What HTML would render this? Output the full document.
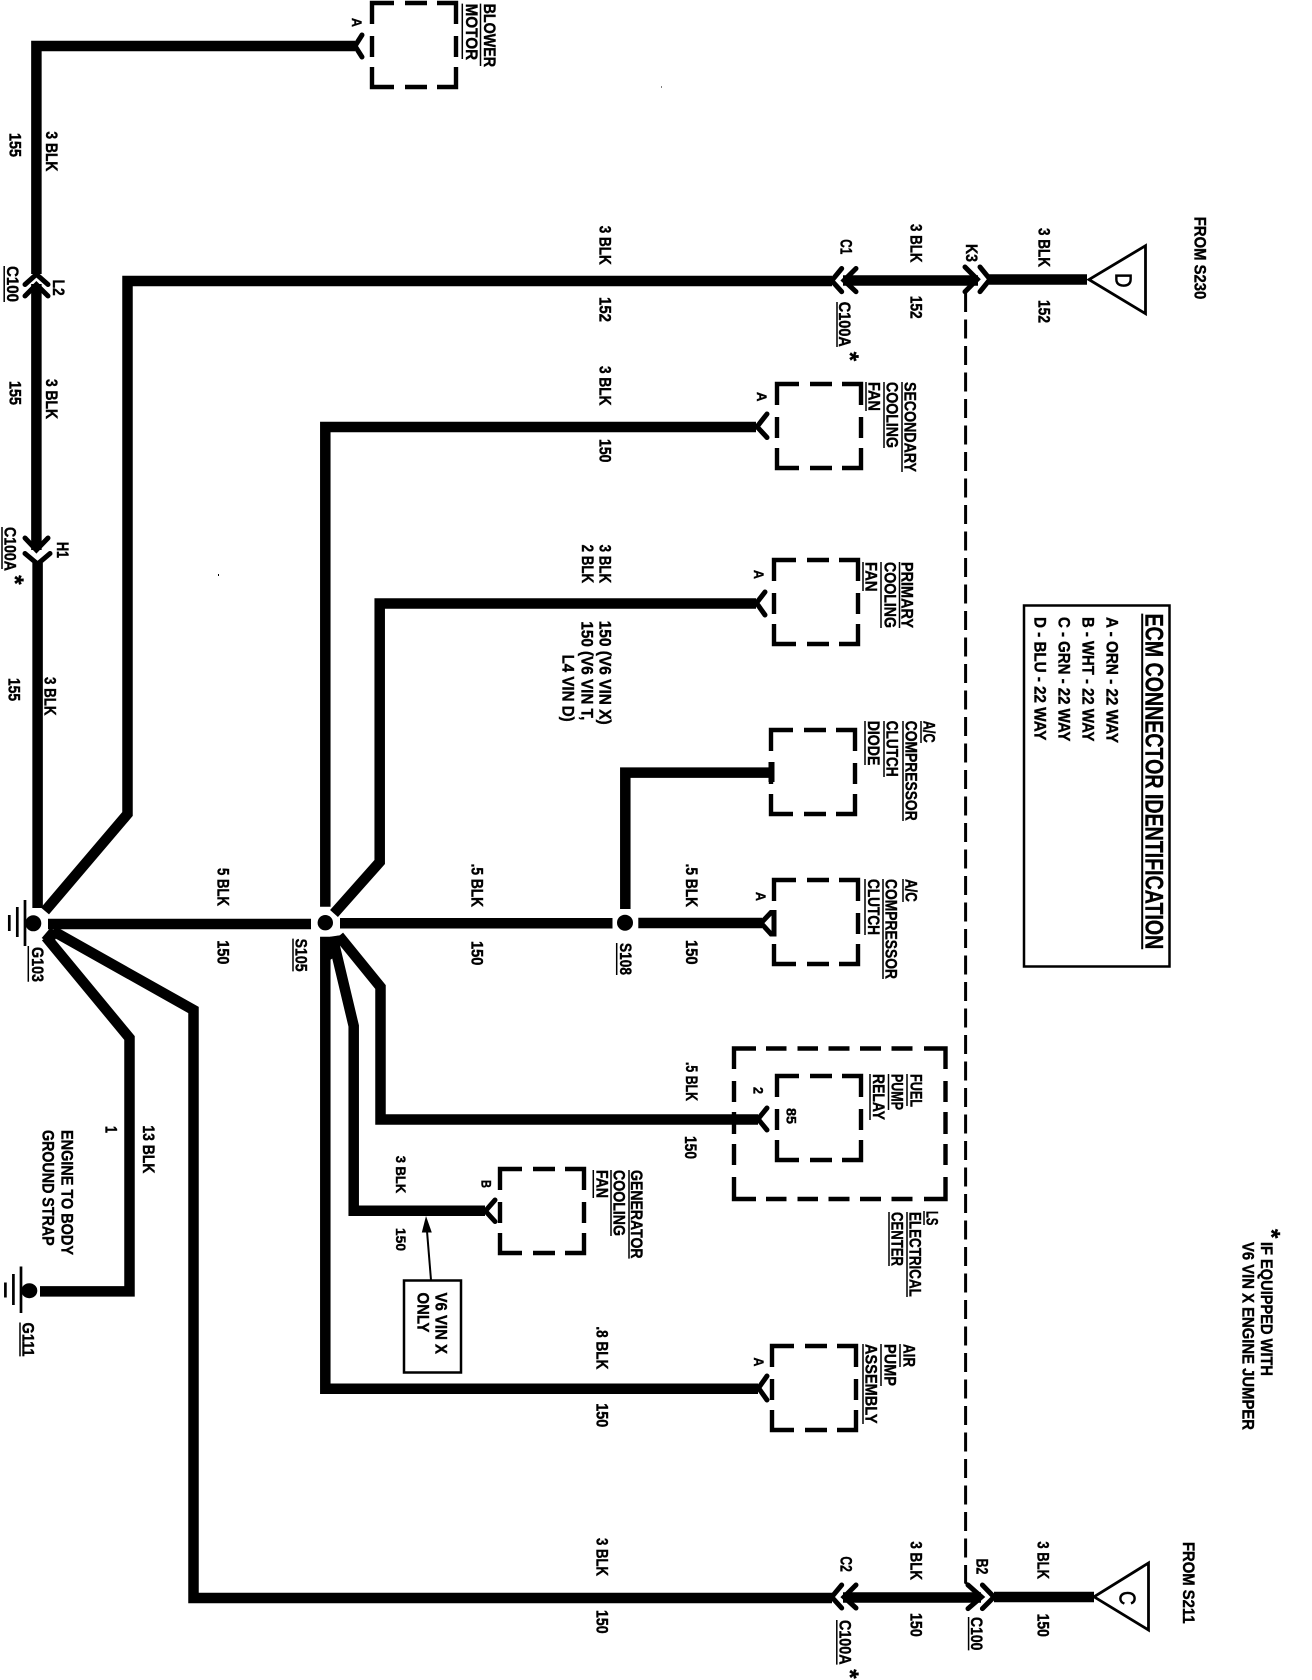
<!DOCTYPE html>
<html><head><meta charset="utf-8"><style>
html,body{margin:0;padding:0;background:#fff}
svg{display:block}
text{font-family:"Liberation Sans",sans-serif;font-weight:bold;font-size:16.5px;fill:#000;stroke:#000;stroke-width:.4px}
.s{font-size:14px}.h{font-size:25px}.l{font-size:23px;font-weight:normal;stroke-width:.7px}.st{font-size:24px}
.w{fill:none;stroke:#000;stroke-width:10.5;stroke-linejoin:miter}
.c{fill:none;stroke:#000;stroke-width:5;stroke-linejoin:miter;stroke-linecap:round}
.u{fill:none;stroke:#000;stroke-width:1.5}
.t{fill:none;stroke:#000;stroke-width:2.7}
</style></head><body>
<svg xmlns="http://www.w3.org/2000/svg" width="1312" height="1680" viewBox="0 0 1312 1680">
<rect width="1312" height="1680" fill="#fff"/>
<defs><path id="b" fill="none" stroke="#000" stroke-width="4.4" d="M24 2H2V23M35 2H57M67 2H86V23M2 35V56M86 35V56M2 66V86H24M35 86H57M67 86H86V66"/></defs>

<!-- boxes -->
<use href="#b" x="370" y="1"/>
<use href="#b" x="775" y="382"/>
<use href="#b" x="772" y="558"/>
<use href="#b" x="769" y="728"/>
<use href="#b" x="772" y="878"/>
<use href="#b" x="775" y="1074"/>
<use href="#b" x="498" y="1167"/>
<use href="#b" x="770" y="1344"/>
<path fill="none" stroke="#000" stroke-width="4.4" d="M756 1048.5H734V1069M766 1048.5H786.5M797.5 1048.5H818M828.5 1048.5H849.5M860 1048.5H881M891.5 1048.5H912.5M924 1048.5H945.5V1069M734 1081V1102M945.5 1081V1102M734 1112V1134M945.5 1112V1134M734 1144V1165M945.5 1144V1165M734 1177V1199H756M766 1199H786.5M797.5 1199H818M828.5 1199H849.5M860 1199H881M891.5 1199H912.5M924 1199H945.5V1177"/>

<!-- wires -->
<path class="w" d="M355 46H36.4V274"/>
<path class="w" d="M36.4 284V550"/>
<path class="w" d="M37.6 563V908"/>
<path class="w" d="M832 281H127.5V814L45 911"/>
<path class="w" d="M843 280.5H978"/>
<path class="w" d="M989 279.5H1087"/>
<path class="w" d="M756 427H325.3V906.7"/>
<path class="w" d="M756 603.5H379.7V862L334 913.5"/>
<path class="w" d="M48 924H311"/>
<path class="w" d="M340 923.3H612.5"/>
<path class="w" d="M625.3 909V772.6H771"/>
<path class="w" d="M638.3 923H762"/>
<path class="w" d="M325.3 936.7V1388.8H758"/>
<path class="w" d="M332.5 937L353.7 1026V1210.7H485"/>
<path class="w" d="M339 936L380.5 987V1119.5H758"/>
<path class="w" d="M46 937L129.5 1038V1291.4H40"/>
<path class="w" d="M53 931L193.5 1010V1598H832"/>
<path class="w" d="M843 1597.5H981"/>
<path class="w" d="M994 1597H1094"/>
<polygon points="330,936.7 342,935 338,955 330,960"/>
<polygon points="41.7,938 50,928.3 60,931.7 52,945"/>

<!-- connectors -->
<path class="c" d="M362 35L355 46L362 57"/>
<path class="c" d="M767 414L757 426.7L767 437.5"/>
<path class="c" d="M765 592L756.5 603L765 615"/>
<path class="c" d="M767 1108L758 1119L767 1130"/>
<path class="c" d="M495 1200L485.4 1211L495 1221.5"/>
<path class="c" d="M767 1376L758.5 1388L767 1400"/>
<path class="c" d="M771 912.5L761 923L771 934H774V912.5Z"/>
<path fill="none" stroke="#000" stroke-width="6" d="M771.5 762V782"/>
<path class="c" d="M25 284.5L36.4 274.3L48 284.5M25 296L36.4 284.5L48 296"/>
<path class="c" d="M25 538L36.4 550L48 538M25 553.5L37.6 564L50 553.5"/>
<path class="c" d="M841.7 268.5L831.7 280.7L841.7 291.7M856 268.5L844 280.5L856 291.7"/>
<path class="c" d="M965 267L977.3 279.3L965 291.7M980 267L990 279.3L980 291.7"/>
<path class="c" d="M841.7 1585L831.7 1597L841.7 1608M856 1585L844 1597L856 1608"/>
<path class="c" d="M968 1585L981.5 1597L968 1608.6M982.4 1585L994 1597L982.4 1608.6"/>

<!-- dashed line -->
<path d="M965.6 293V1582.5L972 1587" fill="none" stroke="#000" stroke-width="3" stroke-dasharray="19 7.5"/>

<!-- junctions and grounds -->
<circle cx="325.3" cy="922.7" r="7.7"/>
<circle cx="625" cy="922.7" r="8"/>
<circle cx="33.3" cy="923.3" r="8"/>
<ellipse cx="29.3" cy="1290.7" rx="8" ry="7.5"/>
<path class="t" d="M25 900V946M17.3 907V937M9.3 915V931M21 1266.5V1313M13.4 1274V1305M5.4 1282.5V1297.5"/>

<!-- triangles and boxes -->
<path fill="none" stroke="#000" stroke-width="2.8" d="M1089 279.6L1145.5 245.7V313.6Z"/>
<path fill="none" stroke="#000" stroke-width="2.8" d="M1094 1596.8L1148.5 1563V1630Z"/>
<rect x="1024" y="605.5" width="145.5" height="361" fill="none" stroke="#000" stroke-width="2.5"/>
<rect x="404" y="1280.5" width="57" height="92" fill="none" stroke="#000" stroke-width="2.5"/>
<path fill="none" stroke="#000" stroke-width="2" d="M431 1280L426.5 1225"/>
<path d="M426 1216L431.8 1232.5L421.8 1232.5Z"/>

<!-- underlines -->
<path class="u" d="M480.5 3.6V66M462.3 3.6V59M4.2 266V302M2 527V569M837 302V347M28.3 946V981.7M293 938.6V971.4M616.7 943V975M902 382V472M884 382V448M866 382V411M899.5 562V628M881 562V628M863 562V591M921 721V743M903 721V821M884 721V777M865 721V765M903 879V902M883 879V979M865 879V935M907 1074V1106M888.5 1074V1110M870 1074V1120M924 1211V1225M907 1212V1297M889 1212V1266M900 1344V1367M881 1344V1386M863 1344V1424M629 1170V1258.6M611 1170V1236M593.3 1170V1198M20 1322.5V1356.4M968.6 1617V1650.4M836.8 1620V1664.6"/>
<path fill="none" stroke="#000" stroke-width="2" d="M1142.2 613.6V949.3"/>

<!-- labels -->
<g transform="translate(0.5 0)">
<text class="s" transform="translate(351.5 18) rotate(90)" textLength="9" lengthAdjust="spacingAndGlyphs">A</text>
<text transform="translate(483.5 3.6) rotate(90)" textLength="63.5" lengthAdjust="spacingAndGlyphs">BLOWER</text>
<text transform="translate(465.5 3.6) rotate(90)" textLength="56.5" lengthAdjust="spacingAndGlyphs">MOTOR</text>
<text transform="translate(45.5 131.4) rotate(90)" textLength="40" lengthAdjust="spacingAndGlyphs">3 BLK</text>
<text transform="translate(8.8 133) rotate(90)" textLength="24" lengthAdjust="spacingAndGlyphs">155</text>
<text transform="translate(6.3 266) rotate(90)" textLength="36" lengthAdjust="spacingAndGlyphs">C100</text>
<text transform="translate(52.5 279.6) rotate(90)" textLength="16" lengthAdjust="spacingAndGlyphs">L2</text>
<text transform="translate(45.5 379) rotate(90)" textLength="40" lengthAdjust="spacingAndGlyphs">3 BLK</text>
<text transform="translate(8.8 381) rotate(90)" textLength="24" lengthAdjust="spacingAndGlyphs">155</text>
<text transform="translate(4.2 527) rotate(90)" textLength="44" lengthAdjust="spacingAndGlyphs">C100A</text>
<text transform="translate(56.5 542) rotate(90)" textLength="16" lengthAdjust="spacingAndGlyphs">H1</text>
<text class="st" transform="translate(6.3 575.3) rotate(90)">*</text>
<text transform="translate(599 225.7) rotate(90)" textLength="39" lengthAdjust="spacingAndGlyphs">3 BLK</text>
<text transform="translate(599 297) rotate(90)" textLength="25" lengthAdjust="spacingAndGlyphs">152</text>
<text transform="translate(599 366) rotate(90)" textLength="39.5" lengthAdjust="spacingAndGlyphs">3 BLK</text>
<text transform="translate(599 439) rotate(90)" textLength="23.5" lengthAdjust="spacingAndGlyphs">150</text>
<text transform="translate(599 544.6) rotate(90)" textLength="38.5" lengthAdjust="spacingAndGlyphs">3 BLK</text>
<text transform="translate(581.6 544.6) rotate(90)" textLength="38.5" lengthAdjust="spacingAndGlyphs">2 BLK</text>
<text transform="translate(599 620.7) rotate(90)" textLength="104" lengthAdjust="spacingAndGlyphs">150 (V6 VIN X)</text>
<text transform="translate(581 621.4) rotate(90)" textLength="99" lengthAdjust="spacingAndGlyphs">150 (V6 VIN T,</text>
<text transform="translate(562 654.6) rotate(90)" textLength="67" lengthAdjust="spacingAndGlyphs">L4 VIN D)</text>
<text transform="translate(7.8 678) rotate(90)" textLength="23" lengthAdjust="spacingAndGlyphs">155</text>
<text transform="translate(44 677) rotate(90)" textLength="38.5" lengthAdjust="spacingAndGlyphs">3 BLK</text>
<text transform="translate(217 868) rotate(90)" textLength="38" lengthAdjust="spacingAndGlyphs">5 BLK</text>
<text transform="translate(217 940.4) rotate(90)" textLength="24" lengthAdjust="spacingAndGlyphs">150</text>
<text transform="translate(295 938.6) rotate(90)" textLength="33" lengthAdjust="spacingAndGlyphs">S105</text>
<text transform="translate(471 863.6) rotate(90)" textLength="43.5" lengthAdjust="spacingAndGlyphs">.5 BLK</text>
<text transform="translate(471 941) rotate(90)" textLength="24.4" lengthAdjust="spacingAndGlyphs">150</text>
<text transform="translate(619.5 943) rotate(90)" textLength="32" lengthAdjust="spacingAndGlyphs">S108</text>
<text transform="translate(31.4 947) rotate(90)" textLength="35" lengthAdjust="spacingAndGlyphs">G103</text>

<text transform="translate(1194 216.8) rotate(90)" textLength="82.5" lengthAdjust="spacingAndGlyphs">FROM S230</text>
<text transform="translate(840 239.3) rotate(90)" textLength="15" lengthAdjust="spacingAndGlyphs">C1</text>
<text transform="translate(965.6 244) rotate(90)" textLength="18" lengthAdjust="spacingAndGlyphs">K3</text>
<text transform="translate(910 224) rotate(90)" textLength="38.5" lengthAdjust="spacingAndGlyphs">3 BLK</text>
<text transform="translate(910 295.7) rotate(90)" textLength="23" lengthAdjust="spacingAndGlyphs">152</text>
<text transform="translate(1038 228) rotate(90)" textLength="39" lengthAdjust="spacingAndGlyphs">3 BLK</text>
<text transform="translate(1038 300) rotate(90)" textLength="23" lengthAdjust="spacingAndGlyphs">152</text>
<text transform="translate(838.5 301.8) rotate(90)" textLength="45" lengthAdjust="spacingAndGlyphs">C100A</text>
<text class="st" transform="translate(841.5 351.7) rotate(90)">*</text>
<text class="l" transform="translate(1115 273) rotate(90)" textLength="14.5" lengthAdjust="spacingAndGlyphs">D</text>
<text class="l" transform="translate(1119 1591) rotate(90)" textLength="14" lengthAdjust="spacingAndGlyphs">C</text>

<text transform="translate(904 382) rotate(90)" textLength="90" lengthAdjust="spacingAndGlyphs">SECONDARY</text>
<text transform="translate(886 382) rotate(90)" textLength="66" lengthAdjust="spacingAndGlyphs">COOLING</text>
<text transform="translate(868 382) rotate(90)" textLength="29" lengthAdjust="spacingAndGlyphs">FAN</text>
<text class="s" transform="translate(756.4 392) rotate(90)" textLength="9.5" lengthAdjust="spacingAndGlyphs">A</text>
<text transform="translate(901 562) rotate(90)" textLength="66" lengthAdjust="spacingAndGlyphs">PRIMARY</text>
<text transform="translate(884 562) rotate(90)" textLength="66" lengthAdjust="spacingAndGlyphs">COOLING</text>
<text transform="translate(865 562) rotate(90)" textLength="29.5" lengthAdjust="spacingAndGlyphs">FAN</text>
<text class="s" transform="translate(753.5 570) rotate(90)" textLength="9" lengthAdjust="spacingAndGlyphs">A</text>
<text transform="translate(923 720.7) rotate(90)" textLength="22" lengthAdjust="spacingAndGlyphs">A/C</text>
<text transform="translate(905 720.7) rotate(90)" textLength="100" lengthAdjust="spacingAndGlyphs">COMPRESSOR</text>
<text transform="translate(886 720.7) rotate(90)" textLength="56" lengthAdjust="spacingAndGlyphs">CLUTCH</text>
<text transform="translate(867.3 720.7) rotate(90)" textLength="44.7" lengthAdjust="spacingAndGlyphs">DIODE</text>
<text transform="translate(905 879) rotate(90)" textLength="22.8" lengthAdjust="spacingAndGlyphs">A/C</text>
<text transform="translate(885 879) rotate(90)" textLength="100" lengthAdjust="spacingAndGlyphs">COMPRESSOR</text>
<text transform="translate(867.3 879) rotate(90)" textLength="56" lengthAdjust="spacingAndGlyphs">CLUTCH</text>
<text class="s" transform="translate(755.6 892) rotate(90)" textLength="9" lengthAdjust="spacingAndGlyphs">A</text>
<text transform="translate(685.3 863.6) rotate(90)" textLength="43.5" lengthAdjust="spacingAndGlyphs">.5 BLK</text>
<text transform="translate(685.3 940) rotate(90)" textLength="24.6" lengthAdjust="spacingAndGlyphs">150</text>
<text transform="translate(685.3 1062) rotate(90)" textLength="39" lengthAdjust="spacingAndGlyphs">.5 BLK</text>
<text transform="translate(684.5 1136) rotate(90)" textLength="23" lengthAdjust="spacingAndGlyphs">150</text>
<text class="s" transform="translate(753 1087) rotate(90)" textLength="7" lengthAdjust="spacingAndGlyphs">2</text>
<text class="s" transform="translate(786 1108) rotate(90)" textLength="16" lengthAdjust="spacingAndGlyphs">85</text>
<text transform="translate(910 1074) rotate(90)" textLength="33" lengthAdjust="spacingAndGlyphs">FUEL</text>
<text transform="translate(891 1074) rotate(90)" textLength="36" lengthAdjust="spacingAndGlyphs">PUMP</text>
<text transform="translate(872.3 1074) rotate(90)" textLength="46" lengthAdjust="spacingAndGlyphs">RELAY</text>

<text class="h" transform="translate(1145 613.6) rotate(90)" textLength="335.7" lengthAdjust="spacingAndGlyphs">ECM CONNECTOR IDENTIFICATION</text>
<text transform="translate(1106 617) rotate(90)" textLength="126" lengthAdjust="spacingAndGlyphs">A - ORN - 22 WAY</text>
<text transform="translate(1082 617) rotate(90)" textLength="124.4" lengthAdjust="spacingAndGlyphs">B - WHT - 22 WAY</text>
<text transform="translate(1058 617) rotate(90)" textLength="124.4" lengthAdjust="spacingAndGlyphs">C - GRN - 22 WAY</text>
<text transform="translate(1034 617) rotate(90)" textLength="123.4" lengthAdjust="spacingAndGlyphs">D - BLU - 22 WAY</text>

<text transform="translate(105 1126) rotate(90)" textLength="7" lengthAdjust="spacingAndGlyphs">1</text>
<text transform="translate(142.5 1125.4) rotate(90)" textLength="48" lengthAdjust="spacingAndGlyphs">13 BLK</text>
<text transform="translate(61 1130) rotate(90)" textLength="125" lengthAdjust="spacingAndGlyphs">ENGINE TO BODY</text>
<text transform="translate(42 1130) rotate(90)" textLength="115.7" lengthAdjust="spacingAndGlyphs">GROUND STRAP</text>
<text transform="translate(22 1322.5) rotate(90)" textLength="34" lengthAdjust="spacingAndGlyphs">G111</text>
<text class="s" transform="translate(395.5 1155.7) rotate(90)" textLength="37.5" lengthAdjust="spacingAndGlyphs">3 BLK</text>
<text class="s" transform="translate(395.5 1228) rotate(90)" textLength="23" lengthAdjust="spacingAndGlyphs">150</text>
<text class="s" transform="translate(481 1180) rotate(90)" textLength="8" lengthAdjust="spacingAndGlyphs">B</text>
<text transform="translate(630.5 1170) rotate(90)" textLength="88.6" lengthAdjust="spacingAndGlyphs">GENERATOR</text>
<text transform="translate(613 1170) rotate(90)" textLength="66" lengthAdjust="spacingAndGlyphs">COOLING</text>
<text transform="translate(596 1170) rotate(90)" textLength="28" lengthAdjust="spacingAndGlyphs">FAN</text>
<text transform="translate(435 1292.5) rotate(90)" textLength="61.5" lengthAdjust="spacingAndGlyphs">V6 VIN X</text>
<text transform="translate(417 1292.5) rotate(90)" textLength="40" lengthAdjust="spacingAndGlyphs">ONLY</text>
<text transform="translate(596 1326.4) rotate(90)" textLength="43" lengthAdjust="spacingAndGlyphs">.8 BLK</text>
<text transform="translate(596 1403.2) rotate(90)" textLength="24" lengthAdjust="spacingAndGlyphs">150</text>
<text transform="translate(596 1538) rotate(90)" textLength="38" lengthAdjust="spacingAndGlyphs">3 BLK</text>
<text transform="translate(596 1610) rotate(90)" textLength="23.6" lengthAdjust="spacingAndGlyphs">150</text>

<text transform="translate(926 1211) rotate(90)" textLength="14.4" lengthAdjust="spacingAndGlyphs">LS</text>
<text transform="translate(909 1212) rotate(90)" textLength="84.8" lengthAdjust="spacingAndGlyphs">ELECTRICAL</text>
<text transform="translate(891 1212) rotate(90)" textLength="54" lengthAdjust="spacingAndGlyphs">CENTER</text>
<text transform="translate(903 1344) rotate(90)" textLength="23" lengthAdjust="spacingAndGlyphs">AIR</text>
<text transform="translate(884 1344) rotate(90)" textLength="42" lengthAdjust="spacingAndGlyphs">PUMP</text>
<text transform="translate(865 1344) rotate(90)" textLength="79.6" lengthAdjust="spacingAndGlyphs">ASSEMBLY</text>
<text class="s" transform="translate(753.5 1357.5) rotate(90)" textLength="9" lengthAdjust="spacingAndGlyphs">A</text>
<text transform="translate(840 1556.4) rotate(90)" textLength="15.4" lengthAdjust="spacingAndGlyphs">C2</text>
<text transform="translate(910 1541.4) rotate(90)" textLength="38.6" lengthAdjust="spacingAndGlyphs">3 BLK</text>
<text transform="translate(910 1613) rotate(90)" textLength="23.8" lengthAdjust="spacingAndGlyphs">150</text>
<text transform="translate(976 1558.6) rotate(90)" textLength="15.7" lengthAdjust="spacingAndGlyphs">B2</text>
<text transform="translate(970.6 1617) rotate(90)" textLength="33.4" lengthAdjust="spacingAndGlyphs">C100</text>
<text transform="translate(838.8 1620) rotate(90)" textLength="44.6" lengthAdjust="spacingAndGlyphs">C100A</text>
<text class="st" transform="translate(841.5 1669.3) rotate(90)">*</text>
<text transform="translate(1037 1541.4) rotate(90)" textLength="37.6" lengthAdjust="spacingAndGlyphs">3 BLK</text>
<text transform="translate(1037 1613.6) rotate(90)" textLength="23.2" lengthAdjust="spacingAndGlyphs">150</text>
<text transform="translate(1182.5 1542) rotate(90)" textLength="81.6" lengthAdjust="spacingAndGlyphs">FROM S211</text>
<text class="st" transform="translate(1262.8 1229) rotate(90)">*</text>
<text transform="translate(1260.6 1242) rotate(90)" textLength="134" lengthAdjust="spacingAndGlyphs">IF EQUIPPED WITH</text>
<text transform="translate(1242 1242) rotate(90)" textLength="188" lengthAdjust="spacingAndGlyphs">V6 VIN X ENGINE JUMPER</text>
</g>

<rect x="661" y="86.5" width="1" height="1"/>
<rect x="218" y="574" width="1" height="2"/>
</svg>
</body></html>
